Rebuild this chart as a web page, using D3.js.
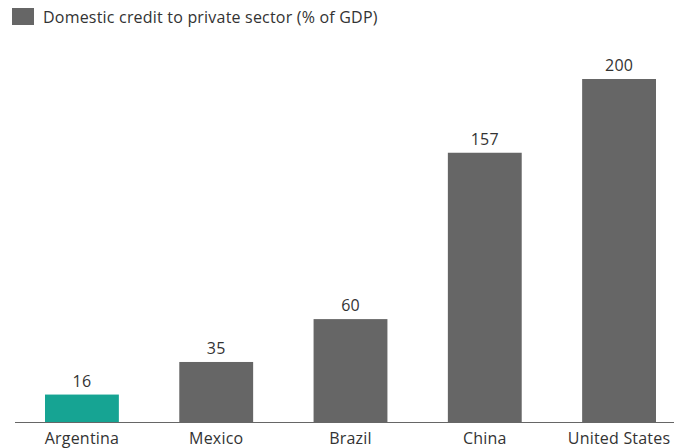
<!DOCTYPE html>
<html>
<head>
<meta charset="utf-8">
<script src="https://cdn.jsdelivr.net/npm/d3@7"></script>
<style>
  html, body { margin: 0; padding: 0; background: #ffffff; }
  svg { display: block; font-family: "Open Sans", Lato, sans-serif; }
</style>
</head>
<body>
<svg id="chart" width="674" height="448"></svg>
<script>
// Domestic credit to private sector, % of GDP
const countries = ["Argentina", "Mexico", "Brazil", "China", "United States"];
const creditValues = [16, 35, 60, 157, 200];
const highlighted = ["Argentina"];
const seriesName = "Domestic credit to private sector (% of GDP)";

const width = 674, height = 448;
const svg = d3.select("#chart");

const baseColor = "#666666";
const accentColor = "#16a493";
const textColor = "#333333";
const fontFamily = "'Open Sans', Lato, sans-serif";
const fontSize = "16px";
const tracking = "0.2px";

const x = d3.scaleBand()
  .domain(countries)
  .range([45, 656])
  .paddingInner(0.45)
  .paddingOuter(0);

const y = d3.scaleLinear()
  .domain([0, 200])
  .range([422, 79]);

// legend
const legend = svg.append("g");
legend.append("rect")
  .attr("x", 12).attr("y", 8)
  .attr("width", 22).attr("height", 17)
  .attr("fill", baseColor);
legend.append("text")
  .attr("x", 43).attr("y", 22.5)
  .attr("fill", textColor)
  .style("font-size", fontSize)
  .style("letter-spacing", tracking)
  .text(seriesName);

const data = countries.map((c, i) => ({ country: c, value: creditValues[i] }));

// bars
svg.append("g").selectAll("rect")
  .data(data)
  .join("rect")
  .attr("x", d => x(d.country))
  .attr("y", d => y(d.value))
  .attr("width", x.bandwidth())
  .attr("height", d => y(0) - y(d.value))
  .attr("fill", d => highlighted.includes(d.country) ? accentColor : baseColor);

// value labels
svg.append("g").selectAll("text")
  .data(data)
  .join("text")
  .attr("x", d => x(d.country) + x.bandwidth() / 2)
  .attr("y", d => y(d.value) - 8)
  .attr("text-anchor", "middle")
  .attr("fill", textColor)
  .style("font-size", fontSize)
  .style("letter-spacing", tracking)
  .text(d => d.value);

// category axis
const axis = svg.append("g")
  .attr("transform", `translate(0,${y(0)})`)
  .call(d3.axisBottom(x).tickSize(0).tickPadding(11));
axis.select(".domain").remove();
axis.selectAll("text")
  .attr("fill", textColor)
  .style("font-size", fontSize)
  .style("letter-spacing", tracking)
  .style("font-family", fontFamily);

svg.append("line")
  .attr("x1", 15).attr("x2", width)
  .attr("y1", y(0) + 0.5).attr("y2", y(0) + 0.5)
  .attr("stroke", "#666666")
  .attr("stroke-width", 1.2);
</script>
</body>
</html>
